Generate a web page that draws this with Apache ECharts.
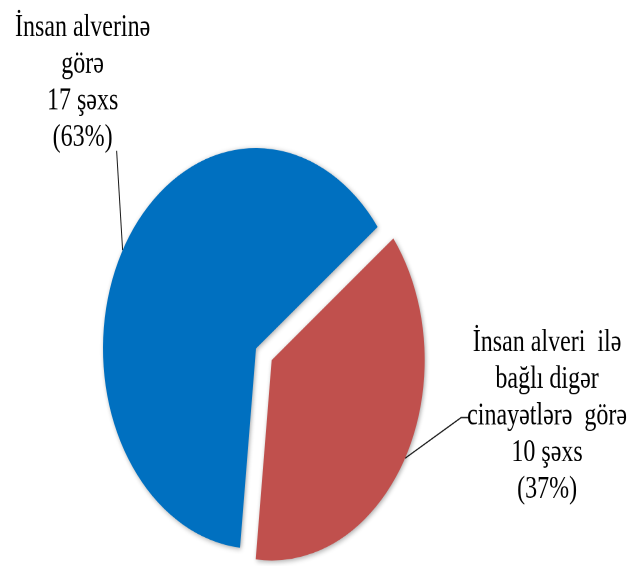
<!DOCTYPE html>
<html>
<head>
<meta charset="utf-8">
<script src="https://cdn.jsdelivr.net/npm/echarts@6/dist/echarts.min.js"></script>
<style>
  html, body { margin: 0; padding: 0; background: #fff; }
  body { width: 632px; height: 566px; overflow: hidden; }
  /* the source picture is stretched vertically, so the whole chart is too */
  #chart { width: 632px; height: 432px; transform: scaleY(1.31); transform-origin: 0 0; }
</style>
</head>
<body>
<div id="chart"></div>
<script>
const categories = ["İnsan alverinə görə", "İnsan alveri ilə bağlı digər cinayətlərə görə"];
const counts = [17, 10];
const labelText = [
  ["İnsan alverinə", "görə"],
  ["İnsan alveri  ilə", "bağlı digər", "cinayətlərə  görə"]
];
const colors = ["#0070C0", "#C0504D"];
const pulled = [0, 18]; // how far each slice is pulled out of the pie

const CX = 256, CY = 266, R = 153, START = 264;
const total = counts.reduce((s, v) => s + v, 0);

function midAngle(i) {
  let a = START;
  for (let k = 0; k < i; k++) a -= counts[k] / total * 360;
  return (a - counts[i] / total * 180) * Math.PI / 180;
}
function sliceCenter(i) {
  const m = midAngle(i);
  return [CX + pulled[i] * Math.cos(m), CY - pulled[i] * Math.sin(m)];
}
function rimPoint(i) {
  const m = midAngle(i), c = sliceCenter(i);
  return [c[0] + R * Math.cos(m), c[1] - R * Math.sin(m)];
}

const labelFmt = (p) =>
  labelText[p.dataIndex].join("\n") + "\n" + p.value + " şəxs\n(" + Math.round(p.percent) + "%)";

function layoutFor(i) {
  const a = rimPoint(i);
  if (i === 0) {
    return {
      x: a[0] - 40, y: a[1] - 128, align: "center", verticalAlign: "middle",
      labelLinePoints: [a, [a[0] - 6, a[1] - 76]],
    };
  }
  return {
    x: a[0] + 142, y: a[1] - 32, align: "center", verticalAlign: "middle",
    labelLinePoints: [a, [a[0] + 56, a[1] - 31], [a[0] + 65, a[1] - 31]],
  };
}

// one pie series per slice so that a slice can sit off the common centre
const series = categories.map((_, s) => ({
  type: "pie",
  center: sliceCenter(s),
  radius: R,
  startAngle: START,
  clockwise: true,
  silent: true,
  emphasis: { disabled: true },
  data: categories.map((name, i) => ({
    name,
    value: counts[i],
    itemStyle: i === s
      ? { color: colors[i], shadowBlur: 4, shadowColor: "rgba(0,0,0,0.35)", shadowOffsetX: 1, shadowOffsetY: 1 }
      : { color: "rgba(0,0,0,0)" },
    label: { show: i === s },
    labelLine: { show: i === s },
  })),
  label: {
    position: "outside",
    overflow: "none",
    fontFamily: "Liberation Serif",
    fontSize: 24,
    lineHeight: 28,
    color: "#000",
    formatter: labelFmt,
  },
  labelLine: { lineStyle: { color: "#1a1a1a", width: 1 } },
  labelLayout: (p) => layoutFor(p.dataIndex),
}));

const chart = echarts.init(document.getElementById("chart"), null, { devicePixelRatio: 2 });
chart.setOption({ animation: false, series });
</script>
</body>
</html>
